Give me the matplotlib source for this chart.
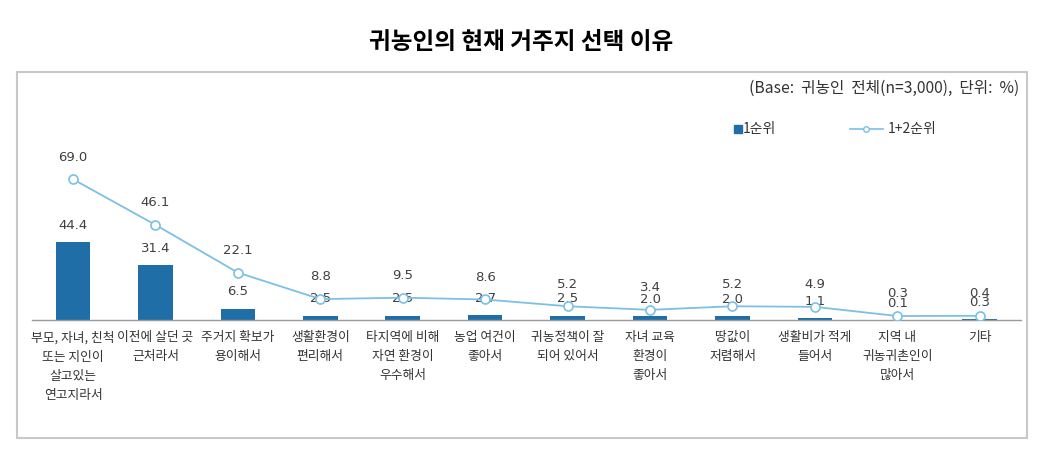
import matplotlib
matplotlib.use('Agg')
import matplotlib.pyplot as plt
from matplotlib.lines import Line2D
from matplotlib.patches import Rectangle

plt.rcParams['font.family'] = ['Noto Sans CJK KR', 'DejaVu Sans']

# data
categories = [
    '부모, 자녀, 친척\n또는 지인이\n살고있는\n연고지라서',
    '이전에 살던 곳\n근처라서',
    '주거지 확보가\n용이해서',
    '생활환경이\n편리해서',
    '타지역에 비해\n자연 환경이\n우수해서',
    '농업 여건이\n좋아서',
    '귀농정책이 잘\n되어 있어서',
    '자녀 교육\n환경이\n좋아서',
    '땅값이\n저렴해서',
    '생활비가 적게\n들어서',
    '지역 내\n귀농귀촌인이\n많아서',
    '기타',
]
first_rank = [44.4, 31.4, 6.5, 2.5, 2.5, 2.7, 2.5, 2.0, 2.0, 1.1, 0.1, 0.3]
first_second_rank = [69.0, 46.1, 22.1, 8.8, 9.5, 8.6, 5.2, 3.4, 5.2, 4.9, 0.3, 0.4]

bar_color = '#1f6ea8'
line_color = '#7cc0e4'
text_color = '#404040'

fig = plt.figure(figsize=(10.49, 4.59), dpi=100)

# outer box
fig.patches.append(Rectangle((0.0162, 0.0458), 0.963, 0.797, transform=fig.transFigure,
                             fill=False, edgecolor='#c8c8c8', linewidth=1.5))

ax = fig.add_axes([0.0303, 0.3028, 0.9430, 0.4793])
x = list(range(len(categories)))

ax.bar(x, first_rank, width=0.42, color=bar_color, zorder=2)
ax.set_xlim(-0.5, len(categories) - 0.5)
ax.set_ylim(0, 125)

for xi, v in zip(x, first_rank):
    ax.annotate(f'{v:.1f}', (xi, v), xytext=(0, 12), textcoords='offset points',
                ha='center', va='center', fontsize=9.5, color=text_color,
                family=['DejaVu Sans'])

# secondary axis for the line
ax2 = ax.twinx()
ax2.plot(x, first_second_rank, color=line_color, linewidth=1.3, marker='o',
         markersize=6.5, markerfacecolor='white', markeredgecolor=line_color,
         markeredgewidth=1.2, zorder=3)
ax2.set_ylim(-1.71, 108.8)

for xi, v in zip(x, first_second_rank):
    ax2.annotate(f'{v:.1f}', (xi, v), xytext=(0, 16), textcoords='offset points',
                 ha='center', va='center', fontsize=9.5, color=text_color,
                 family=['DejaVu Sans'])

for a in (ax, ax2):
    for side in ('top', 'right', 'left'):
        a.spines[side].set_visible(False)
    a.set_yticks([])
ax2.spines['bottom'].set_visible(False)
ax.spines['bottom'].set_color('#9a9a9a')
ax.spines['bottom'].set_linewidth(1.0)

ax.set_xticks(x)
ax.set_xticklabels(categories, fontsize=9.2, color='#333333', linespacing=1.6, va='top')
ax.tick_params(axis='x', length=0, pad=8)

# title and note
fig.text(0.497, 0.908, '귀농인의 현재 거주지 선택 이유', ha='center', va='center',
         fontsize=17, fontweight='bold', color='black')
fig.text(0.972, 0.808, '(Base:  귀농인  전체(n=3,000),  단위:  %)', ha='right', va='center',
         fontsize=11.3, color='#333333')

# legend
ly = 0.7185
fig.add_artist(Line2D([0.7035], [ly], transform=fig.transFigure, marker='s',
                      markersize=6, color=bar_color, linestyle='none'))
fig.text(0.7085, ly, '1순위', ha='left', va='center', fontsize=10, color='#333333')
fig.add_artist(Line2D([0.810, 0.842], [ly, ly], transform=fig.transFigure,
                      color=line_color, linewidth=1.2))
fig.add_artist(Line2D([0.8255], [ly], transform=fig.transFigure, marker='o',
                      markersize=4, markerfacecolor='white', markeredgecolor=line_color,
                      linestyle='none'))
fig.text(0.8465, ly, '1+2순위', ha='left', va='center', fontsize=10, color='#333333')

fig.savefig('out.png', dpi=100, facecolor='white')
